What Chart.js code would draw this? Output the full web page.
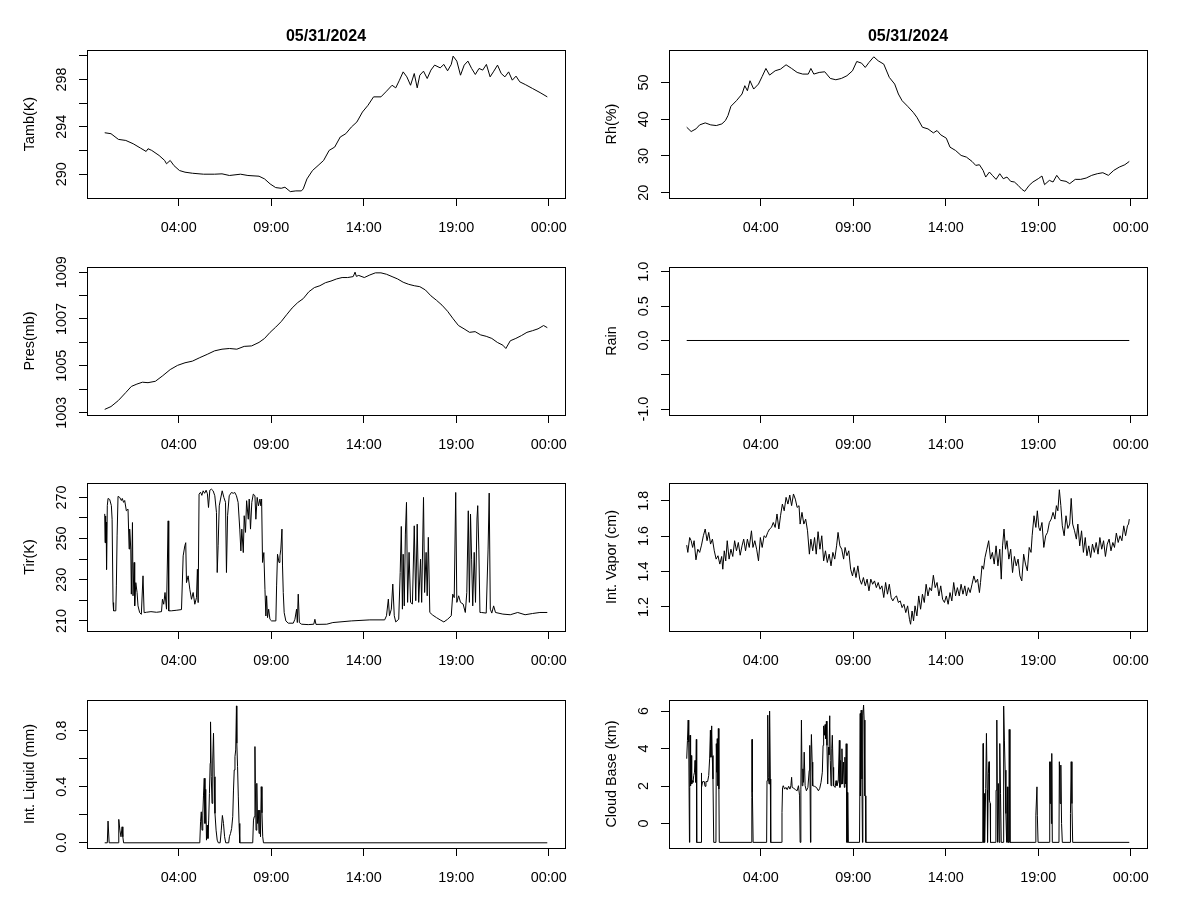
<!DOCTYPE html>
<html lang="en">
<head>
<meta charset="UTF-8" />
<title>Met data 05/31/2024</title>
<script src="https://cdn.jsdelivr.net/npm/chart.js"></script>
<style>
  body { margin: 0; background: #fff; }
  #page { position: relative; width: 1200px; height: 900px; overflow: hidden; background: #fff; }
  .panel { position: absolute; width: 600px; height: 240px; }
</style>
</head>
<body>
<div id="page">
  <div class="panel" style="left:0px;top:0px"><canvas id="tamb" width="600" height="240"></canvas></div>
  <div class="panel" style="left:582px;top:0px"><canvas id="rh" width="600" height="240"></canvas></div>
  <div class="panel" style="left:0px;top:217px"><canvas id="pres" width="600" height="240"></canvas></div>
  <div class="panel" style="left:582px;top:217px"><canvas id="rain" width="600" height="240"></canvas></div>
  <div class="panel" style="left:0px;top:433px"><canvas id="tir" width="600" height="240"></canvas></div>
  <div class="panel" style="left:582px;top:433px"><canvas id="vapor" width="600" height="240"></canvas></div>
  <div class="panel" style="left:0px;top:650px"><canvas id="liquid" width="600" height="240"></canvas></div>
  <div class="panel" style="left:582px;top:650px"><canvas id="cloud" width="600" height="240"></canvas></div>
</div>

<script>
// time axis (hours since start of day)
const hourTicks = [4, 9, 14, 19, 24];
const hourLabels = ['04:00', '09:00', '14:00', '19:00', '00:00'];
const dayTitle = '05/31/2024';

// [hour, value] readings
const tambPoints = [[0,293.50],[0.34,293.42],[0.74,292.94],[1.14,292.85],[1.54,292.57],[1.94,292.20],[2.24,291.92],[2.34,292.15],[2.54,292.01],[2.94,291.58],[3.24,291.16],[3.34,290.88],[3.54,291.16],[3.74,290.73],[4.04,290.31],[4.34,290.17],[4.74,290.08],[5.34,290.0],[5.94,290.0],[6.34,290.03],[6.74,289.89],[7.34,290.0],[7.74,289.89],[8.34,289.83],[8.64,289.60],[8.94,289.18],[9.24,288.87],[9.54,288.81],[9.74,288.90],[10.03,288.53],[10.33,288.59],[10.63,288.59],[10.73,288.76],[10.93,289.60],[11.23,290.31],[11.53,290.73],[11.83,291.16],[12.13,292.01],[12.43,292.29],[12.73,293.14],[13.03,293.42],[13.33,293.98],[13.63,294.41],[13.93,295.25],[14.23,295.82],[14.53,296.53],[14.93,296.53],[15.23,297.01],[15.53,297.51],[15.73,297.29],[15.93,297.94],[16.13,298.64],[16.33,298.22],[16.53,297.51],[16.73,298.50],[16.89,297.29],[17.03,298.36],[17.23,298.70],[17.43,298.08],[17.63,298.79],[17.83,299.21],[18.13,298.98],[18.33,299.27],[18.53,298.73],[18.73,299.27],[18.83,299.97],[19.03,299.55],[19.23,298.36],[19.43,299.21],[19.63,299.55],[19.83,298.93],[20.03,298.42],[20.23,298.93],[20.43,298.79],[20.63,299.27],[20.83,298.22],[21.03,298.70],[21.23,299.21],[21.43,298.50],[21.63,298.22],[21.83,298.64],[22.03,297.94],[22.23,298.28],[22.43,297.80],[22.73,297.57],[23.13,297.23],[23.53,296.89],[23.92,296.53]];

const rhPoints = [[0,37.80],[0.24,36.63],[0.5,37.35],[0.7,38.44],[1.0,38.98],[1.3,38.44],[1.6,38.26],[1.9,38.71],[2.09,39.61],[2.23,40.97],[2.39,43.50],[2.69,45.03],[2.99,46.84],[3.14,49.10],[3.28,47.74],[3.42,50.45],[3.62,48.19],[3.88,49.55],[4.08,51.63],[4.28,53.79],[4.48,51.99],[4.78,53.16],[5.07,53.61],[5.37,54.79],[5.67,53.79],[5.97,52.71],[6.27,52.26],[6.57,52.26],[6.71,53.79],[6.87,52.26],[7.16,52.71],[7.46,52.89],[7.76,51.08],[8.06,50.72],[8.36,51.08],[8.66,51.81],[8.96,53.16],[9.19,55.69],[9.45,55.24],[9.65,54.07],[9.85,55.42],[10.11,56.96],[10.35,55.87],[10.65,54.97],[10.95,51.36],[11.24,49.55],[11.44,46.84],[11.64,45.03],[11.94,43.50],[12.24,41.87],[12.44,40.51],[12.74,37.80],[13.04,37.35],[13.33,36.27],[13.53,36.90],[13.73,35.73],[14.03,34.82],[14.23,32.38],[14.53,31.48],[14.83,30.13],[15.12,29.67],[15.42,28.50],[15.62,27.42],[15.82,27.60],[16.02,26.06],[16.16,24.25],[16.36,25.61],[16.52,24.71],[16.72,23.62],[16.92,25.16],[17.11,23.80],[17.31,24.25],[17.51,23.08],[17.71,22.90],[17.91,22.00],[18.11,20.92],[18.27,20.37],[18.51,22.00],[18.71,22.90],[19.0,23.80],[19.2,24.53],[19.34,22.18],[19.6,23.35],[19.8,22.90],[20.0,24.71],[20.2,23.35],[20.5,23.08],[20.7,22.45],[21.0,23.62],[21.29,23.62],[21.59,23.98],[21.89,24.71],[22.19,25.16],[22.49,25.43],[22.79,24.71],[23.08,26.06],[23.38,26.96],[23.68,27.60],[23.92,28.50]];

const presPoints = [[0,1003.14],[0.34,1003.26],[0.74,1003.52],[1.14,1003.86],[1.44,1004.12],[1.74,1004.22],[2.04,1004.30],[2.34,1004.28],[2.74,1004.34],[3.14,1004.58],[3.54,1004.84],[3.94,1005.02],[4.34,1005.13],[4.74,1005.20],[5.14,1005.35],[5.54,1005.49],[5.94,1005.64],[6.34,1005.71],[6.74,1005.74],[7.14,1005.71],[7.54,1005.83],[7.94,1005.85],[8.34,1006.0],[8.64,1006.17],[8.94,1006.43],[9.24,1006.65],[9.54,1006.89],[9.83,1007.18],[10.13,1007.47],[10.43,1007.70],[10.73,1007.87],[11.03,1008.16],[11.33,1008.34],[11.63,1008.42],[11.93,1008.55],[12.23,1008.62],[12.53,1008.71],[12.83,1008.77],[13.13,1008.77],[13.43,1008.81],[13.53,1009.0],[13.6,1008.82],[13.73,1008.86],[14.03,1008.77],[14.33,1008.88],[14.63,1008.97],[14.93,1008.97],[15.23,1008.91],[15.53,1008.81],[15.83,1008.71],[16.13,1008.57],[16.43,1008.48],[16.73,1008.42],[17.03,1008.38],[17.33,1008.24],[17.63,1007.99],[17.93,1007.80],[18.23,1007.59],[18.53,1007.33],[18.83,1007.01],[19.12,1006.72],[19.42,1006.58],[19.72,1006.43],[20.02,1006.46],[20.32,1006.32],[20.62,1006.26],[20.92,1006.17],[21.22,1006.0],[21.52,1005.88],[21.68,1005.74],[21.92,1006.07],[22.22,1006.17],[22.52,1006.29],[22.82,1006.43],[23.12,1006.50],[23.42,1006.58],[23.72,1006.72],[23.92,1006.63]];

const rainPoints = [[0,0],[23.92,0]];

const tirPoints = [[0,262],[0.02,248],[0.04,261],[0.06,248],[0.08,258],[0.10,235],[0.14,266],[0.18,269.5],[0.27,269],[0.36,266],[0.40,259.4],[0.45,218.9],[0.48,214.9],[0.60,214.9],[0.63,227],[0.67,251.3],[0.72,270.5],[0.81,270],[0.9,268.5],[0.95,269.5],[1.02,267.6],[1.08,268.5],[1.17,263.5],[1.26,264.3],[1.32,244.9],[1.35,254.6],[1.41,244.9],[1.44,223],[1.5,257.8],[1.53,222.2],[1.59,238.4],[1.62,217.3],[1.68,228.6],[1.75,223.8],[1.80,217.3],[1.89,214],[1.98,213.2],[2.07,231.9],[2.13,214],[2.25,214.2],[2.5,214.5],[2.8,214.2],[3.07,214.5],[3.12,220.5],[3.19,218.1],[3.26,223.8],[3.34,215.7],[3.43,258.6],[3.46,214.9],[3.6,214.9],[3.9,215.2],[4.15,215.5],[4.24,241.6],[4.33,246.5],[4.38,248],[4.42,228.6],[4.51,231.9],[4.6,225.4],[4.69,220.5],[4.78,223.8],[4.87,218.1],[4.96,221.3],[5.01,235.1],[5.05,218.9],[5.1,271.6],[5.18,272.5],[5.25,271],[5.32,273.2],[5.4,272],[5.48,273.5],[5.55,271.8],[5.61,265.1],[5.68,273.5],[5.77,274],[5.86,273.2],[5.95,270.8],[6.04,262.7],[6.08,233.5],[6.13,246.5],[6.19,265.9],[6.26,269.2],[6.35,273.2],[6.44,270],[6.53,267.6],[6.58,233.5],[6.64,261.1],[6.73,270.8],[6.85,272.4],[6.95,272],[7.03,272.4],[7.12,270.8],[7.21,267.6],[7.3,254.6],[7.36,244],[7.41,254.6],[7.49,243.2],[7.54,261.1],[7.61,253],[7.67,268.4],[7.76,259.4],[7.81,269.2],[7.88,254.6],[7.95,267.6],[8.03,271.6],[8.12,270.8],[8.17,259.4],[8.24,270],[8.31,265.9],[8.39,269.2],[8.44,265.9],[8.48,269.2],[8.53,238.4],[8.6,243.2],[8.66,225.4],[8.71,212.4],[8.75,222.2],[8.8,211.6],[8.86,215.7],[8.93,210.8],[9.02,210],[9.25,210],[9.29,227],[9.34,242.4],[9.42,238.4],[9.47,241.6],[9.52,244.9],[9.58,254.6],[9.61,236.7],[9.65,223.8],[9.7,214],[9.79,210],[9.92,208.9],[10.19,208.9],[10.28,210.8],[10.37,215.7],[10.41,209.2],[10.46,223],[10.52,209.2],[10.64,208.4],[11.0,208.2],[11.3,208.4],[11.36,210.8],[11.42,208.3],[12.0,208.4],[12.33,209.2],[13.33,210],[14.33,210.5],[15.13,210.5],[15.23,212.5],[15.33,220.6],[15.39,212.5],[15.49,215.7],[15.57,227.9],[15.65,212.5],[15.73,209.5],[15.89,210.8],[15.97,233.5],[16.03,255.9],[16.09,215.7],[16.13,242.4],[16.19,217.3],[16.25,252.2],[16.31,267.6],[16.37,219],[16.45,243.3],[16.53,219],[16.63,218.2],[16.73,256.2],[16.81,219.8],[16.89,257],[16.97,219],[17.07,240],[17.13,219],[17.23,270],[17.29,223.8],[17.37,243.3],[17.43,222.2],[17.49,250.6],[17.57,214.1],[17.73,212.8],[17.93,211.6],[18.13,210.5],[18.33,209.5],[18.53,210.8],[18.73,212.5],[18.81,223],[18.89,221.3],[18.97,272.4],[19.03,219],[19.13,222.2],[19.23,219],[19.37,218.2],[19.49,214.1],[19.57,223.8],[19.65,263.5],[19.71,219],[19.77,261.9],[19.83,240],[19.89,217.3],[19.97,243.3],[20.04,219],[20.12,259.5],[20.16,266],[20.22,244.9],[20.28,214.1],[20.36,214.1],[20.62,213.8],[20.72,244.9],[20.78,272.1],[20.84,215.7],[20.92,213.8],[21.02,217.3],[21.12,214.1],[21.52,213.3],[21.92,213],[22.32,214.1],[22.72,213],[23.12,213.6],[23.52,214.1],[23.92,214.1]];

const vaporPoints = [[0.0,1.549],[0.06,1.508],[0.16,1.592],[0.24,1.574],[0.32,1.536],[0.4,1.574],[0.5,1.466],[0.6,1.526],[0.7,1.508],[0.8,1.549],[0.9,1.602],[1.0,1.640],[1.1,1.574],[1.19,1.621],[1.29,1.555],[1.39,1.583],[1.49,1.517],[1.59,1.470],[1.69,1.489],[1.79,1.442],[1.89,1.485],[1.95,1.413],[2.03,1.517],[2.11,1.460],[2.19,1.574],[2.29,1.470],[2.39,1.526],[2.49,1.485],[2.59,1.574],[2.69,1.517],[2.79,1.564],[2.89,1.492],[2.99,1.545],[3.08,1.583],[3.18,1.517],[3.28,1.583],[3.38,1.536],[3.5,1.630],[3.58,1.536],[3.68,1.574],[3.78,1.526],[3.88,1.460],[3.98,1.592],[4.08,1.536],[4.18,1.602],[4.28,1.592],[4.38,1.621],[4.48,1.640],[4.58,1.649],[4.68,1.677],[4.78,1.649],[4.88,1.725],[4.98,1.640],[5.07,1.715],[5.17,1.781],[5.27,1.743],[5.37,1.819],[5.47,1.781],[5.57,1.832],[5.67,1.772],[5.77,1.838],[5.87,1.809],[5.97,1.762],[6.07,1.772],[6.13,1.668],[6.23,1.734],[6.33,1.668],[6.43,1.696],[6.53,1.630],[6.63,1.498],[6.71,1.583],[6.81,1.517],[6.91,1.592],[7.0,1.498],[7.1,1.625],[7.2,1.526],[7.3,1.602],[7.4,1.460],[7.5,1.517],[7.6,1.451],[7.7,1.498],[7.8,1.432],[7.9,1.508],[8.0,1.470],[8.1,1.545],[8.18,1.621],[8.28,1.545],[8.38,1.526],[8.48,1.470],[8.56,1.536],[8.66,1.489],[8.76,1.517],[8.86,1.413],[8.96,1.375],[9.05,1.423],[9.15,1.366],[9.25,1.432],[9.35,1.357],[9.45,1.328],[9.55,1.366],[9.65,1.319],[9.75,1.357],[9.85,1.291],[9.95,1.357],[10.05,1.328],[10.15,1.347],[10.25,1.309],[10.35,1.338],[10.45,1.300],[10.55,1.319],[10.65,1.253],[10.75,1.338],[10.85,1.272],[10.95,1.328],[11.05,1.253],[11.14,1.234],[11.24,1.253],[11.34,1.262],[11.44,1.225],[11.54,1.234],[11.64,1.196],[11.74,1.215],[11.84,1.168],[11.94,1.206],[12.04,1.130],[12.1,1.102],[12.18,1.177],[12.26,1.121],[12.34,1.206],[12.44,1.149],[12.54,1.262],[12.64,1.187],[12.74,1.272],[12.84,1.225],[12.94,1.328],[13.04,1.262],[13.13,1.309],[13.23,1.291],[13.33,1.379],[13.43,1.309],[13.53,1.338],[13.63,1.262],[13.73,1.319],[13.83,1.243],[13.93,1.225],[14.03,1.262],[14.13,1.215],[14.23,1.281],[14.33,1.234],[14.43,1.338],[14.53,1.262],[14.63,1.309],[14.73,1.262],[14.83,1.328],[14.93,1.272],[15.03,1.319],[15.12,1.262],[15.22,1.309],[15.32,1.281],[15.42,1.328],[15.52,1.375],[15.62,1.338],[15.72,1.357],[15.82,1.281],[15.88,1.338],[15.96,1.432],[16.04,1.413],[16.12,1.479],[16.22,1.526],[16.32,1.574],[16.42,1.470],[16.52,1.508],[16.62,1.442],[16.72,1.545],[16.82,1.432],[16.92,1.526],[17.0,1.357],[17.07,1.545],[17.15,1.640],[17.23,1.526],[17.31,1.574],[17.41,1.470],[17.51,1.526],[17.61,1.394],[17.71,1.485],[17.81,1.432],[17.91,1.470],[18.01,1.375],[18.11,1.347],[18.21,1.498],[18.31,1.442],[18.41,1.404],[18.51,1.536],[18.61,1.508],[18.67,1.602],[18.77,1.715],[18.87,1.649],[18.95,1.743],[19.03,1.649],[19.1,1.630],[19.2,1.677],[19.3,1.536],[19.4,1.602],[19.5,1.621],[19.6,1.677],[19.7,1.696],[19.8,1.734],[19.9,1.696],[19.98,1.772],[20.06,1.743],[20.14,1.862],[20.22,1.772],[20.3,1.658],[20.4,1.602],[20.5,1.715],[20.6,1.643],[20.7,1.668],[20.78,1.813],[20.86,1.668],[20.96,1.630],[21.06,1.583],[21.14,1.668],[21.24,1.545],[21.34,1.630],[21.44,1.508],[21.54,1.592],[21.63,1.489],[21.73,1.545],[21.83,1.479],[21.93,1.555],[22.03,1.508],[22.13,1.564],[22.23,1.498],[22.33,1.592],[22.43,1.526],[22.53,1.574],[22.63,1.485],[22.73,1.555],[22.83,1.583],[22.93,1.517],[23.03,1.564],[23.12,1.536],[23.22,1.617],[23.32,1.564],[23.42,1.602],[23.52,1.574],[23.62,1.658],[23.72,1.602],[23.82,1.658],[23.88,1.668],[23.92,1.696]];

const liquidPoints = [[0,0],[0.14,0],[0.18,0.155],[0.24,0],[0.74,0],[0.76,0.167],[0.82,0.09],[0.88,0.043],[0.94,0.114],[0.98,0.043],[1.02,0],[5.14,0],[5.18,0.15],[5.22,0.221],[5.26,0.09],[5.3,0.198],[5.34,0.34],[5.38,0.46],[5.42,0.138],[5.46,0.381],[5.5,0.019],[5.54,0.126],[5.58,0.031],[5.62,0.162],[5.66,0.352],[5.7,0.567],[5.72,0.862],[5.76,0.471],[5.8,0.281],[5.84,0.59],[5.88,0.781],[5.92,0.471],[5.96,0.21],[6.02,0.09],[6.08,0.019],[6.14,0],[6.24,0],[6.3,0.09],[6.36,0.195],[6.42,0.138],[6.48,0.043],[6.54,0],[6.7,0],[6.74,0.043],[6.8,0.067],[6.86,0.102],[6.92,0.186],[6.96,0.376],[7.0,0.519],[7.04,0.614],[7.08,0.662],[7.12,0.976],[7.14,0.71],[7.18,0.543],[7.22,0.333],[7.26,0.138],[7.3,0],[8.0,0],[8.04,0.162],[8.08,0.186],[8.12,0.686],[8.14,0.424],[8.18,0.09],[8.22,0.424],[8.26,0.138],[8.3,0.233],[8.34,0.067],[8.38,0.233],[8.42,0.043],[8.46,0.4],[8.5,0.214],[8.54,0.043],[8.58,0],[23.92,0]];

const cloudPoints = [[0.0,3.46],[0.04,4.44],[0.08,5.52],[0.11,4.35],[0.15,-1],[0.165,1.93],[0.18,4.71],[0.2,3.54],[0.22,2.02],[0.24,3.63],[0.27,2.11],[0.31,2.29],[0.34,2.20],[0.38,2.56],[0.42,2.74],[0.45,3.37],[0.49,2.20],[0.52,4.49],[0.54,-1],[0.775,-1],[0.79,2.70],[0.81,1.93],[0.86,2.24],[0.95,2.24],[0.99,1.99],[1.04,2.24],[1.13,2.24],[1.19,2.56],[1.24,3.49],[1.28,4.98],[1.31,3.54],[1.35,5.21],[1.38,3.63],[1.42,2.38],[1.46,-1],[1.58,-1],[1.6,4.26],[1.635,2.74],[1.65,4.53],[1.69,2.02],[1.71,5.07],[1.74,1.84],[1.76,-1],[3.5,-1],[3.52,1.39],[3.53,4.49],[3.55,1.66],[3.59,-1],[4.32,-1],[4.34,2.29],[4.38,5.78],[4.41,2.47],[4.45,2.11],[4.48,6.0],[4.52,2.38],[4.54,-1],[5.11,-1],[5.15,0.59],[5.18,1.93],[5.22,2.02],[5.29,1.84],[5.36,1.93],[5.43,1.81],[5.51,1.99],[5.58,1.84],[5.63,2.02],[5.67,2.47],[5.7,1.93],[5.79,1.88],[5.88,1.81],[5.97,1.75],[6.04,2.02],[6.1,1.48],[6.13,-1],[6.17,1.84],[6.2,5.52],[6.24,2.02],[6.28,2.92],[6.31,2.20],[6.35,3.81],[6.4,2.02],[6.47,1.75],[6.55,1.93],[6.62,2.83],[6.65,4.17],[6.69,-1],[6.71,3.28],[6.74,4.75],[6.78,3.28],[6.81,2.02],[6.9,1.99],[7.01,1.93],[7.12,1.75],[7.19,1.88],[7.26,2.20],[7.33,2.74],[7.37,4.17],[7.4,5.21],[7.44,4.71],[7.48,5.28],[7.51,4.53],[7.55,5.46],[7.58,4.17],[7.62,2.11],[7.66,4.08],[7.69,3.67],[7.73,5.75],[7.76,3.37],[7.8,2.02],[7.84,3.99],[7.87,4.71],[7.91,3.0],[7.94,2.02],[8.02,1.93],[8.07,2.29],[8.12,2.02],[8.19,2.24],[8.25,4.44],[8.28,1.93],[8.32,3.37],[8.36,2.11],[8.39,3.99],[8.43,2.11],[8.48,3.28],[8.52,1.93],[8.55,3.54],[8.59,2.11],[8.62,4.26],[8.66,-1],[8.68,1.66],[8.7,-1],[8.71,1.48],[8.73,-1],[9.34,-1],[9.38,5.87],[9.39,1.48],[9.43,6.05],[9.47,2.38],[9.5,-1],[9.52,5.78],[9.56,6.32],[9.59,5.52],[9.63,1.48],[9.66,1.48],[9.68,-1],[16.0,-1],[16.02,4.27],[16.04,-1],[16.08,1.6],[16.1,-1],[16.16,1.87],[16.2,4.81],[16.24,1.78],[16.26,-1],[16.3,2.67],[16.34,3.3],[16.36,1.25],[16.4,1.07],[16.42,-1],[16.71,-1],[16.72,1.78],[16.76,5.52],[16.8,-1],[16.84,2.14],[16.88,-1],[16.92,4.27],[16.96,1.6],[17.0,-1],[17.11,-1],[17.13,6.27],[17.17,4.45],[17.21,2.85],[17.25,0.54],[17.29,-1],[17.33,1.96],[17.36,-1],[17.41,-1],[17.43,5.02],[17.47,-1],[18.85,-1],[18.87,0.45],[18.93,1.96],[18.95,0.45],[18.99,-1],[19.6,-1],[19.62,3.3],[19.65,1.07],[19.68,3.3],[19.71,0.0],[19.73,3.74],[19.76,-1],[20.12,-1],[20.14,3.3],[20.18,1.07],[20.22,3.12],[20.26,0.0],[20.3,-1],[20.72,-1],[20.74,0.54],[20.78,3.3],[20.82,1.07],[20.86,-1],[23.92,-1]];

// y tick positions and their printed labels ('' = tick only)
const tambTicks = [290, 292, 294, 296, 298, 300];
const tambLabels = ['290', '', '294', '', '298', ''];
const rhTicks = [20, 30, 40, 50];
const rhLabels = ['20', '30', '40', '50'];
const presTicks = [1003, 1004, 1005, 1006, 1007, 1008, 1009];
const presLabels = ['1003', '', '1005', '', '1007', '', '1009'];
const rainTicks = [-1, -0.5, 0, 0.5, 1];
const rainLabels = ['-1.0', '', '0.0', '0.5', '1.0'];
const tirTicks = [210, 220, 230, 240, 250, 260, 270];
const tirLabels = ['210', '', '230', '', '250', '', '270'];
const vaporTicks = [1.2, 1.4, 1.6, 1.8];
const vaporLabels = ['1.2', '1.4', '1.6', '1.8'];
const liquidTicks = [0, 0.2, 0.4, 0.6, 0.8];
const liquidLabels = ['0.0', '', '0.4', '', '0.8'];
const cloudTicks = [0, 2, 4, 6];
const cloudLabels = ['0', '2', '4', '6'];

const FONT = "'Liberation Sans', Arial, Helvetica, sans-serif";
const FS = 14.4;

const measure = document.createElement('canvas').getContext('2d');
measure.font = FS + 'px ' + FONT;

// R-style frame round the plot region
const boxPlugin = {
  id: 'box',
  afterDraw(chart) {
    const {ctx, chartArea: a} = chart;
    const l = Math.round(a.left), t = Math.round(a.top);
    ctx.save();
    ctx.strokeStyle = '#000';
    ctx.lineWidth = 1;
    ctx.strokeRect(l + 0.5, t + 0.5, Math.round(a.right) - l, Math.round(a.bottom) - t);
    ctx.restore();
  }
};

function panel(id, points, yTitle, yMin, yMax, yTicks, yLabels, title) {
  const widest = Math.max(...yLabels.map(s => measure.measureText(s).width));
  const tickGrid = { drawOnChartArea: false, drawTicks: true, tickLength: 8, color: '#000', lineWidth: 1 };
  new Chart(document.getElementById(id), {
    type: 'line',
    data: {
      datasets: [{
        data: points.map(p => ({ x: p[0], y: p[1] })),
        borderColor: '#000',
        borderWidth: 1,
        pointRadius: 0,
        tension: 0,
        fill: false
      }]
    },
    options: {
      responsive: false,
      animation: false,
      events: [],
      layout: { padding: { top: title ? 0 : 50, right: 35, left: 0, bottom: 0 } },
      plugins: {
        legend: { display: false },
        tooltip: { enabled: false },
        title: {
          display: !!title,
          text: title || '',
          fullSize: false,
          color: '#000',
          font: { family: FONT, size: 16, weight: 'bold' },
          padding: { top: 27, bottom: 4 }
        }
      },
      scales: {
        x: {
          type: 'linear',
          min: -0.957,
          max: 24.877,
          afterBuildTicks: s => { s.ticks = hourTicks.map(v => ({ value: v })); },
          afterFit: s => { s.height = 42; },
          ticks: {
            autoSkip: false, maxRotation: 0, minRotation: 0, padding: 13,
            color: '#000', font: { family: FONT, size: FS },
            callback: (v, i) => hourLabels[i]
          },
          grid: tickGrid,
          border: { display: false }
        },
        y: {
          type: 'linear',
          min: yMin,
          max: yMax,
          afterBuildTicks: s => { s.ticks = yTicks.map(v => ({ value: v })); },
          afterFit: s => { s.width = 87; },
          ticks: {
            autoSkip: false, minRotation: 90, maxRotation: 90, crossAlign: 'center',
            padding: 17 - widest / 2,
            color: '#000', font: { family: FONT, size: FS },
            callback: (v, i) => yLabels[i]
          },
          title: {
            display: true, text: yTitle, color: '#000',
            font: { family: FONT, size: FS },
            padding: { top: 21.6, bottom: 0 }
          },
          grid: tickGrid,
          border: { display: false }
        }
      }
    },
    plugins: [boxPlugin]
  });
}

panel('tamb', tambPoints, 'Tamb(K)', 287.99, 300.47, tambTicks, tambLabels, dayTitle);
panel('rh', rhPoints, 'Rh(%)', 18.55, 58.76, rhTicks, rhLabels, dayTitle);
panel('pres', presPoints, 'Pres(mb)', 1002.9, 1009.22, presTicks, presLabels);
panel('rain', rainPoints, 'Rain', -1.086, 1.071, rainTicks, rainLabels);
panel('tir', tirPoints, 'Tir(K)', 205.1, 277.0, tirTicks, tirLabels);
panel('vapor', vaporPoints, 'Int. Vapor (cm)', 1.064, 1.9, vaporTicks, vaporLabels);
panel('liquid', liquidPoints, 'Int. Liquid (mm)', -0.037, 1.018, liquidTicks, liquidLabels);
panel('cloud', cloudPoints, 'Cloud Base (km)', -1.3, 6.59, cloudTicks, cloudLabels);
</script>
</body>
</html>
